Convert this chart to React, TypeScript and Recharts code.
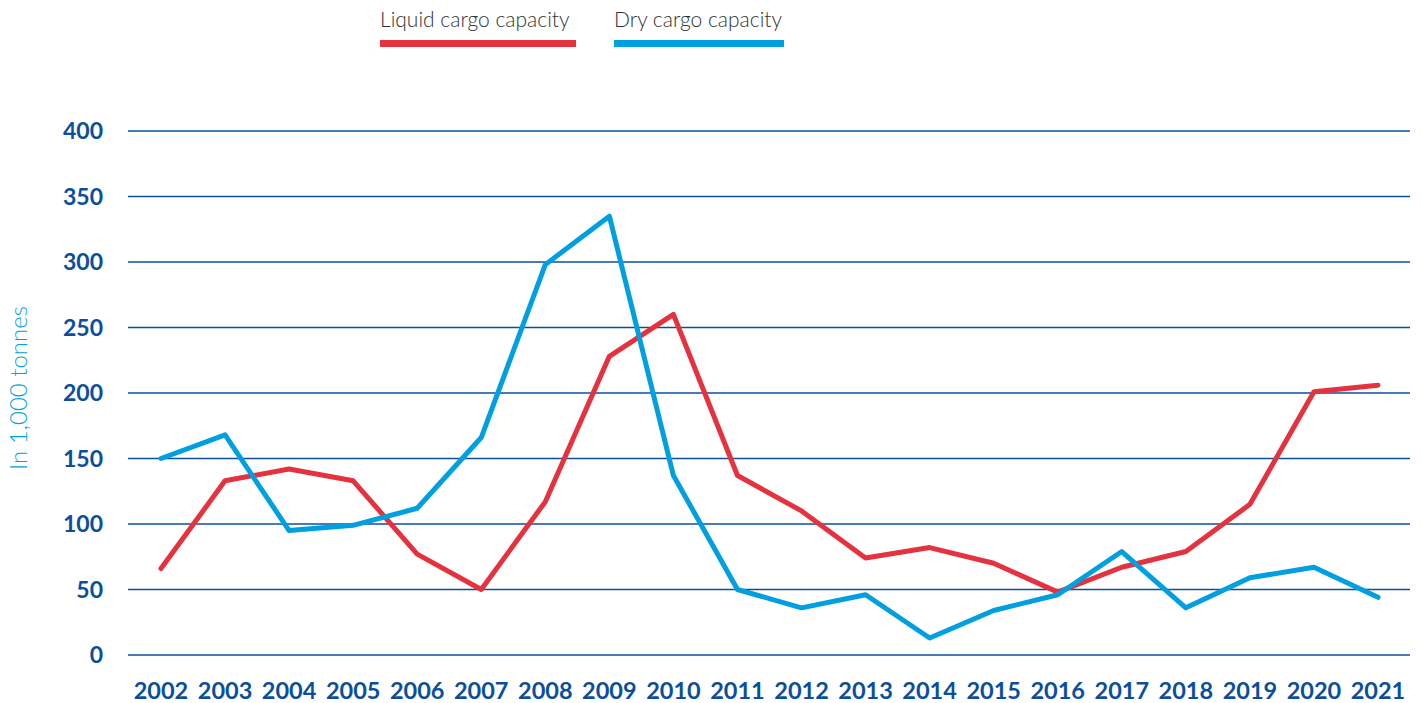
import React from 'react';
import { LineChart, Line, XAxis, YAxis, CartesianGrid } from 'recharts';

const years = ['2002', '2003', '2004', '2005', '2006', '2007', '2008', '2009', '2010', '2011',
  '2012', '2013', '2014', '2015', '2016', '2017', '2018', '2019', '2020', '2021'];
const liquidCargo = [66, 133, 142, 133, 77, 50, 117, 228, 260, 137, 110, 74, 82, 70, 48, 67, 79, 115, 201, 206];
const dryCargo = [150, 168, 95, 99, 112, 166, 298, 335, 137, 50, 36, 46, 13, 34, 46, 79, 36, 59, 67, 44];
const yTicks = [0, 50, 100, 150, 200, 250, 300, 350, 400];

const data = years.map((year, i) => ({
  year,
  liquid: liquidCargo[i],
  dry: dryCargo[i],
}));

const navy = '#0b4f9c';
const red = '#e5323f';
const cyan = '#009fe0';

const series = [
  { key: 'liquid', name: 'Liquid cargo capacity', color: red, left: 380, barWidth: 196 },
  { key: 'dry', name: 'Dry cargo capacity', color: cyan, left: 614, barWidth: 170 },
];

export default function App() {
  return (
    <div style={{ position: 'absolute', left: 0, top: 0, width: 1421, height: 703, background: '#fff' }}>
      {/* legend: label with a thick bar underneath */}
      {series.map(s => (
        <div key={s.key} style={{ position: 'absolute', left: s.left, top: 6, zIndex: 1 }}>
          <div style={{ fontFamily: 'Lato', fontWeight: 300, fontSize: 21, color: '#333', lineHeight: '26px', whiteSpace: 'nowrap' }}>
            {s.name}
          </div>
          <div style={{ width: s.barWidth, height: 7, backgroundColor: s.color, marginTop: 8 }} />
        </div>
      ))}

      <LineChart
        width={1421}
        height={703}
        data={data}
        margin={{ top: 131, right: 11, bottom: 0, left: 0 }}
      >
        <CartesianGrid vertical={false} stroke={navy} strokeWidth={1.3} />
        <XAxis
          dataKey="year"
          axisLine={false}
          tickLine={false}
          tickSize={0}
          tickMargin={27}
          height={48}
          interval={0}
          padding={{ left: 33, right: 32 }}
          tick={{ fill: navy, fontFamily: 'Lato', fontWeight: 700, fontSize: 23.5 }}
        />
        <YAxis
          width={128}
          domain={[0, 400]}
          ticks={yTicks}
          axisLine={false}
          tickLine={false}
          tickSize={0}
          tickMargin={25}
          tick={{ fill: navy, fontFamily: 'Lato', fontWeight: 700, fontSize: 23 }}
          label={{
            value: 'In 1,000 tonnes',
            angle: -90,
            position: 'center',
            dx: -46,
            dy: -5,
            style: { fill: cyan, fontFamily: 'Lato', fontWeight: 300, fontSize: 24 },
          }}
        />
        {series.map(s => (
          <Line
            key={s.key}
            type="linear"
            dataKey={s.key}
            name={s.name}
            stroke={s.color}
            strokeWidth={5}
            dot={false}
            activeDot={false}
            strokeLinecap="round"
            strokeLinejoin="round"
            isAnimationActive={false}
          />
        ))}
      </LineChart>
    </div>
  );
}
